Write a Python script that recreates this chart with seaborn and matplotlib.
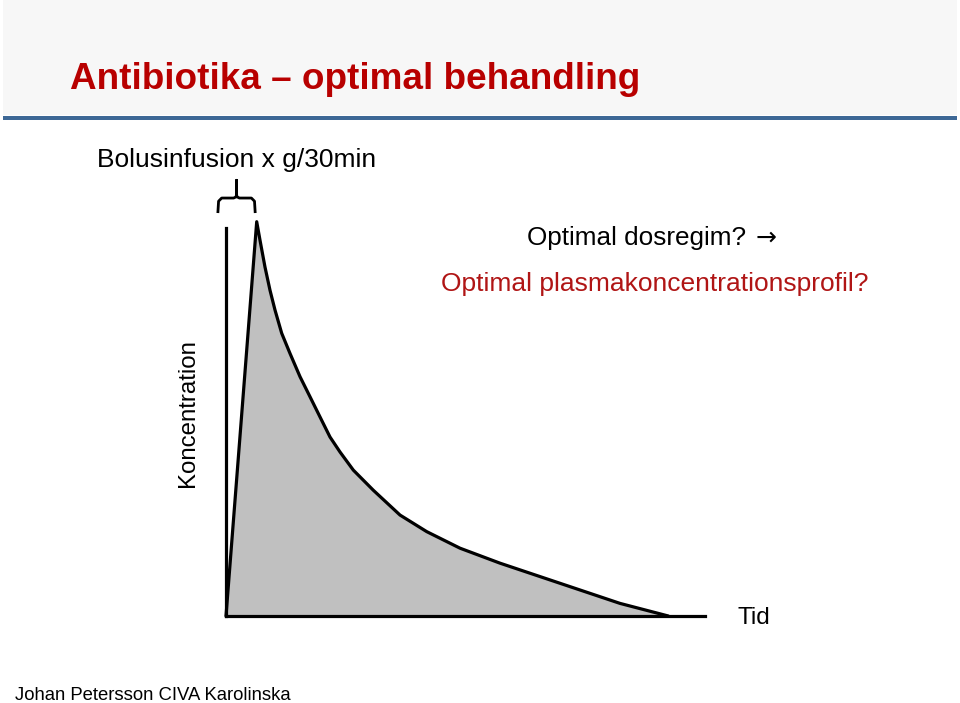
import matplotlib
matplotlib.use("Agg")
import matplotlib.pyplot as plt
import seaborn as sns
import pandas as pd
from matplotlib.patches import Rectangle

# ---- data ----
tid = [0.0, 6.41, 7.10, 8.14, 9.19, 10.23, 11.63, 13.36, 15.45, 17.54, 19.62,
       21.71, 23.80, 26.58, 30.75, 36.33, 41.90, 48.85, 57.20, 65.55, 73.90,
       82.25, 92.34]
koncentration = [0.0, 100.0, 95.3, 88.5, 82.6, 77.6, 71.7, 66.6, 60.7, 55.6,
                 50.5, 45.4, 41.6, 37.0, 31.9, 25.6, 21.4, 17.2, 13.4, 10.0,
                 6.6, 3.2, 0.0]

title = "Antibiotika – optimal behandling"
subtitle = "Bolusinfusion x g/30min"
q1 = "Optimal dosregim?"
q1_arrow = "\u2192"
q2 = "Optimal plasmakoncentrationsprofil?"
ylabel = "Koncentration"
xlabel = "Tid"
footer = "Johan Petersson CIVA Karolinska"

df = pd.DataFrame({"Tid": tid, "Koncentration": koncentration})

sns.set_theme(style="white")
plt.rcParams['font.family'] = ['Liberation Sans', 'DejaVu Sans']

W, H = 960, 703
fig = plt.figure(figsize=(W / 100, H / 100), dpi=100)
fig.patch.set_facecolor("white")

def fx(px):
    return px / W

def fy(py):
    return 1 - py / H

# title band
fig.patches.append(Rectangle((fx(3), fy(115)), fx(954), 115 / H,
                             transform=fig.transFigure, facecolor="#f7f7f7",
                             edgecolor="none", zorder=0))
fig.patches.append(Rectangle((fx(3), fy(119.5)), fx(954), 3.5 / H,
                             transform=fig.transFigure, facecolor="#3d6896",
                             edgecolor="none", zorder=1))

fig.text(fx(70), fy(89), title, color="#b80000", fontsize=26.6,
         fontweight="bold", va="baseline", ha="left")
fig.text(fx(97), fy(167), subtitle, color="black", fontsize=19,
         va="baseline", ha="left")
fig.text(fx(527), fy(245), q1, color="black", fontsize=18.8,
         va="baseline", ha="left")
fig.text(fx(756), fy(245), q1_arrow, color="black", fontsize=18,
         family=['DejaVu Sans'], va="baseline", ha="left")
fig.text(fx(441), fy(291), q2, color="#b01515", fontsize=19,
         va="baseline", ha="left")
fig.text(fx(738), fy(624), xlabel, color="black", fontsize=17.5,
         va="baseline", ha="left")
fig.text(fx(194), fy(413.5), ylabel, color="black", fontsize=17.3,
         rotation=90, va="baseline", ha="center", rotation_mode="anchor")
fig.text(fx(15), fy(700), footer, color="black", fontsize=13.3,
         va="baseline", ha="left")

# plot axes
left, right, bottom, top = 226, 705, 616, 221.7
ax = fig.add_axes([fx(left), fy(bottom), fx(right - left), (bottom - top) / H])
ax.set_facecolor("none")
ax.set_xlim(0, 100)
ax.set_ylim(0, 100)

ax.fill_between(df["Tid"], df["Koncentration"], 0, color="#c0c0c0",
                linewidth=0, zorder=1)
sns.lineplot(data=df, x="Tid", y="Koncentration", ax=ax, color="black",
             linewidth=2.3, sort=False, zorder=3, clip_on=False)
for ln in ax.lines:
    ln.set_solid_joinstyle("round")

for s in ["top", "right"]:
    ax.spines[s].set_visible(False)
for s in ["left", "bottom"]:
    ax.spines[s].set_linewidth(2.3)
    ax.spines[s].set_color("black")
    ax.spines[s].set_zorder(4)
ax.spines["left"].set_bounds(0, 98.3)
ax.spines["bottom"].set_bounds(0, 100)
ax.set_xticks([])
ax.set_yticks([])
ax.set_xlabel("")
ax.set_ylabel("")

# curly brace above the infusion period
x0, x1 = -1.7, 6.1
xm = (x0 + x1) / 2
yb, yh, ytop = 102.2, 106.0, 110.5
bx = [x0, x0 + 0.15, x0 + 0.8, xm - 0.6, xm - 0.1, xm, xm, xm, xm + 0.1, xm + 0.6, x1 - 0.8, x1 - 0.15, x1]
by = [yb, yh - 0.8, yh, yh, yh + 0.3, yh + 1.0, ytop, yh + 1.0, yh + 0.3, yh, yh, yh - 0.8, yb]
ax.plot(bx, by, color="black", linewidth=2.0, clip_on=False,
        solid_capstyle="butt", solid_joinstyle="round")

fig.savefig("out.png", dpi=100)
